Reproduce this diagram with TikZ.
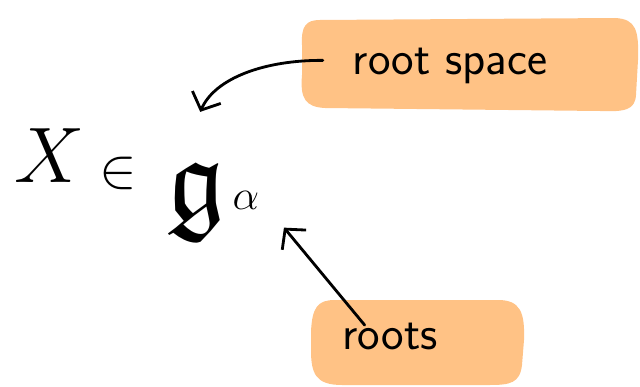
\RequirePackage{fix-cm}
\documentclass[tikz,border=0pt]{standalone}
\usepackage{amssymb}
\usetikzlibrary{arrows.meta}
\definecolor{blobfill}{RGB}{255,194,133}
\tikzset{
  blob/.style={fill=blobfill},
  lbl/.style={inner sep=0pt, font=\sffamily\fontsize{34}{38}\selectfont},
  sym/.style={inner sep=0pt},
  conn/.style={line width=2pt, line cap=round, -{Straight Barb[length=10pt,width=22pt,line width=2pt]}}
}
\begin{document}
\begin{tikzpicture}[x=0.025cm,y=-0.025cm]
\useasboundingbox (0,0) rectangle (640,387);
% blobs
\fill[blob] (320,20) -- (615,18) .. controls (636,19) and (639,30) .. (638,60) -- (636,95) .. controls (635,110) and (625,112) .. (600,111) -- (325,108) .. controls (305,107) and (300,98) .. (302,75) -- (302,45) .. controls (301,26) and (306,20) .. (320,20) -- cycle;
\fill[blob] (335,300) -- (498,300) .. controls (520,300) and (525,312) .. (524,340) -- (522,365) .. controls (520,383) and (510,385) .. (490,385) -- (342,385) .. controls (316,385) and (311,374) .. (311,350) -- (311,332) .. controls (312,307) and (318,300) .. (335,300) -- cycle;
% texts
\node[lbl] (rs) at (450,66) {root space};
\node[lbl] (rt) at (390,336) {roots};
% formula
\node[sym] (X) at (50,156) {\fontsize{56}{60}\selectfont$X$};
\node[sym] (in) at (118,173) {\fontsize{40}{44}\selectfont$\in$};
\node[sym] (g) at (196,202) {\fontsize{84}{88}\selectfont$\mathfrak{g}$};
\node[sym] (a) at (246,200) {\fontsize{30}{32}\selectfont$\alpha$};
% connectors
\draw[conn] ([xshift=-21pt,yshift=4pt]rs.west) .. controls (265,60) and (215,78) .. ([xshift=3pt,yshift=36pt]g.north);
\draw[conn] ([xshift=-18pt,yshift=-2pt]rt.north) -- ([xshift=27pt,yshift=-13pt]a.south);
\end{tikzpicture}
\end{document}
